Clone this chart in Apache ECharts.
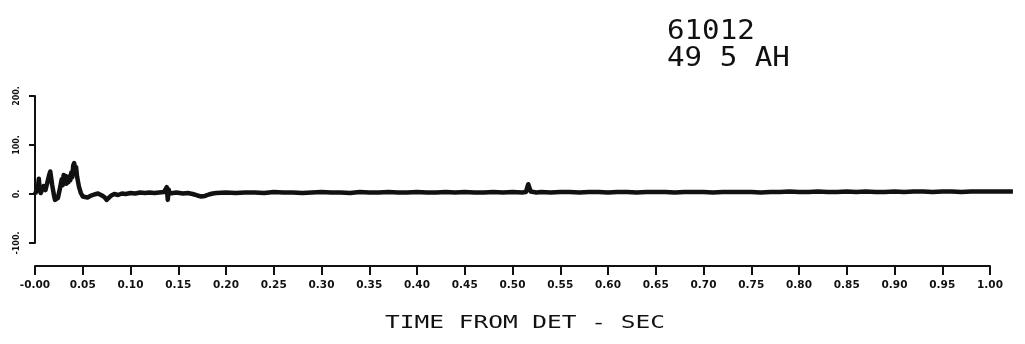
<!DOCTYPE html>
<html>
<head>
<meta charset="utf-8">
<style>
  html, body { margin: 0; padding: 0; background: #fff; }
  #chart { width: 1025px; height: 344px; }
</style>
<script src="https://cdn.jsdelivr.net/npm/echarts@6/dist/echarts.min.js"></script>
</head>
<body>
<div id="chart"></div>
<script>
// Record header and axis title
const headerLines = ['61012', '49 5 AH'];
const axisTitle = 'TIME FROM DET - SEC';

// Tick labels
const xTickLabels = ['-0.00', '0.05', '0.10', '0.15', '0.20', '0.25', '0.30', '0.35', '0.40', '0.45',
  '0.50', '0.55', '0.60', '0.65', '0.70', '0.75', '0.80', '0.85', '0.90', '0.95', '1.00'];
const yTickValues = [-100, 0, 100, 200];
const yTickLabels = ['-100.', '0.', '100.', '200.'];

// Pressure trace: time (s) and amplitude
const traceTime = [
  0.000, 0.002, 0.003, 0.004, 0.005, 0.006, 0.007, 0.009, 0.011, 0.013, 0.015, 0.016, 0.017, 0.018,
  0.020, 0.021, 0.022, 0.024, 0.026, 0.028, 0.029, 0.030, 0.031, 0.032, 0.033, 0.034, 0.035, 0.036,
  0.037, 0.038, 0.039, 0.040, 0.041, 0.042, 0.043, 0.044, 0.046, 0.048, 0.050, 0.052, 0.055, 0.058,
  0.062, 0.066, 0.070, 0.073, 0.075, 0.077, 0.080, 0.083, 0.087, 0.091, 0.095, 0.100, 0.105, 0.110,
  0.115, 0.120, 0.125, 0.130, 0.135, 0.138, 0.139, 0.140, 0.141, 0.143, 0.148, 0.155, 0.160, 0.165,
  0.170, 0.174, 0.178, 0.182, 0.186, 0.190, 0.200, 0.210, 0.220, 0.230, 0.240, 0.250, 0.260, 0.270,
  0.280, 0.290, 0.300, 0.310, 0.320, 0.330, 0.340, 0.350, 0.360, 0.370, 0.380, 0.390, 0.400, 0.410,
  0.420, 0.430, 0.440, 0.450, 0.460, 0.470, 0.480, 0.490, 0.500, 0.510, 0.514, 0.5165, 0.5175, 0.519,
  0.525, 0.530, 0.540, 0.550, 0.560, 0.570, 0.580, 0.590, 0.600, 0.610, 0.620, 0.630, 0.640, 0.650,
  0.660, 0.670, 0.680, 0.690, 0.700, 0.710, 0.720, 0.730, 0.740, 0.750, 0.760, 0.770, 0.780, 0.790,
  0.800, 0.810, 0.820, 0.830, 0.840, 0.850, 0.860, 0.870, 0.880, 0.890, 0.900, 0.910, 0.920, 0.930,
  0.940, 0.950, 0.960, 0.970, 0.980, 0.990, 1.000, 1.010, 1.024
];
const traceValue = [
  0, 3, 12, 31, 8, 2, 0, 16, 8, 24, 40, 46, 32, 18,
  -4, -12, -16, -8, 10, 30, 18, 39, 24, 37, 21, 34, 24, 36,
  28, 44, 34, 58, 63, 50, 55, 36, 15, 2, -5, -9, -7, -4,
  -1, 1, -3, -7, -12, -10, -3, 0, -2, 1, 0, 2, 1, 3,
  2, 3, 2, 3, 4, 14, -12, 9, 1, 2, 3, 1, 2, 0,
  -3, -5, -4, -1, 1, 2, 3, 2, 3, 3, 2, 4, 3, 3,
  2, 3, 4, 3, 3, 2, 4, 3, 3, 4, 3, 3, 4, 3,
  3, 4, 3, 4, 3, 3, 4, 3, 4, 3, 4, 20, 22, 5,
  3, 4, 3, 4, 4, 3, 4, 4, 3, 4, 4, 3, 4, 4,
  4, 3, 4, 4, 4, 3, 4, 4, 4, 4, 3, 4, 4, 5,
  4, 4, 5, 4, 4, 5, 4, 5, 4, 4, 5, 4, 5, 5,
  4, 5, 5, 4, 5, 5, 5, 5, 5
];

const plotLeft = 35;
const plotRight = 990;
const plotTop = 96;
const plotBottom = 243;
const plotWidth = plotRight - plotLeft;
const traceEnd = traceTime[traceTime.length - 1];

const chart = echarts.init(document.getElementById('chart'), null, { renderer: 'canvas' });

const ink = '#111';
const labelFont = { color: ink, fontFamily: 'DejaVu Sans', fontWeight: 'bold' };

chart.setOption({
  animation: false,
  backgroundColor: '#fff',
  grid: [
    { left: plotLeft, top: plotTop, width: plotWidth, height: plotBottom - plotTop },
    { left: plotLeft, top: plotTop, width: plotWidth * traceEnd, height: plotBottom - plotTop }
  ],
  xAxis: [
    {
      type: 'value', gridIndex: 0, min: 0, max: 1, interval: 0.05,
      position: 'bottom', offset: 23,
      axisLine: { show: true, onZero: false, lineStyle: { color: ink, width: 2 } },
      axisTick: { show: true, length: 9, lineStyle: { color: ink, width: 2 } },
      splitLine: { show: false },
      axisLabel: Object.assign({
        margin: 14, fontSize: 10.5,
        formatter: v => xTickLabels[Math.round(v / 0.05)] || ''
      }, labelFont)
    },
    {
      type: 'value', gridIndex: 1, min: 0, max: traceEnd, show: false
    }
  ],
  yAxis: [
    {
      type: 'value', gridIndex: 0, min: -100, max: 200, interval: 100,
      axisLine: { show: true, onZero: false, lineStyle: { color: ink, width: 2 } },
      axisTick: { show: true, length: 6, lineStyle: { color: ink, width: 2 } },
      splitLine: { show: false },
      axisLabel: Object.assign({
        margin: 14, rotate: 90, fontSize: 8,
        formatter: v => { const i = yTickValues.indexOf(v); return i >= 0 ? yTickLabels[i] : ''; }
      }, labelFont)
    },
    {
      type: 'value', gridIndex: 1, min: -100, max: 200, show: false
    }
  ],
  series: [{
    type: 'line',
    xAxisIndex: 1,
    yAxisIndex: 1,
    data: traceTime.map((t, i) => [t, traceValue[i]]),
    showSymbol: false,
    lineStyle: { color: ink, width: 4.5, join: 'round' },
    silent: true
  }],
  graphic: [
    {
      type: 'text', x: 667, y: 32, scaleX: 1.08,
      style: {
        text: headerLines[0], fill: ink, font: '27px "DejaVu Sans Mono"',
        align: 'left', textAlign: 'left', verticalAlign: 'middle', textVerticalAlign: 'middle'
      }
    },
    {
      type: 'text', x: 667, y: 58.5, scaleX: 1.08,
      style: {
        text: headerLines[1], fill: ink, font: '27px "DejaVu Sans Mono"',
        align: 'left', textAlign: 'left', verticalAlign: 'middle', textVerticalAlign: 'middle'
      }
    },
    {
      type: 'text', x: 525, y: 323.5, scaleX: 1.36,
      style: {
        text: axisTitle, fill: ink, font: '18px "DejaVu Sans Mono"',
        align: 'center', textAlign: 'center', verticalAlign: 'middle', textVerticalAlign: 'middle'
      }
    }
  ]
});
</script>
</body>
</html>
